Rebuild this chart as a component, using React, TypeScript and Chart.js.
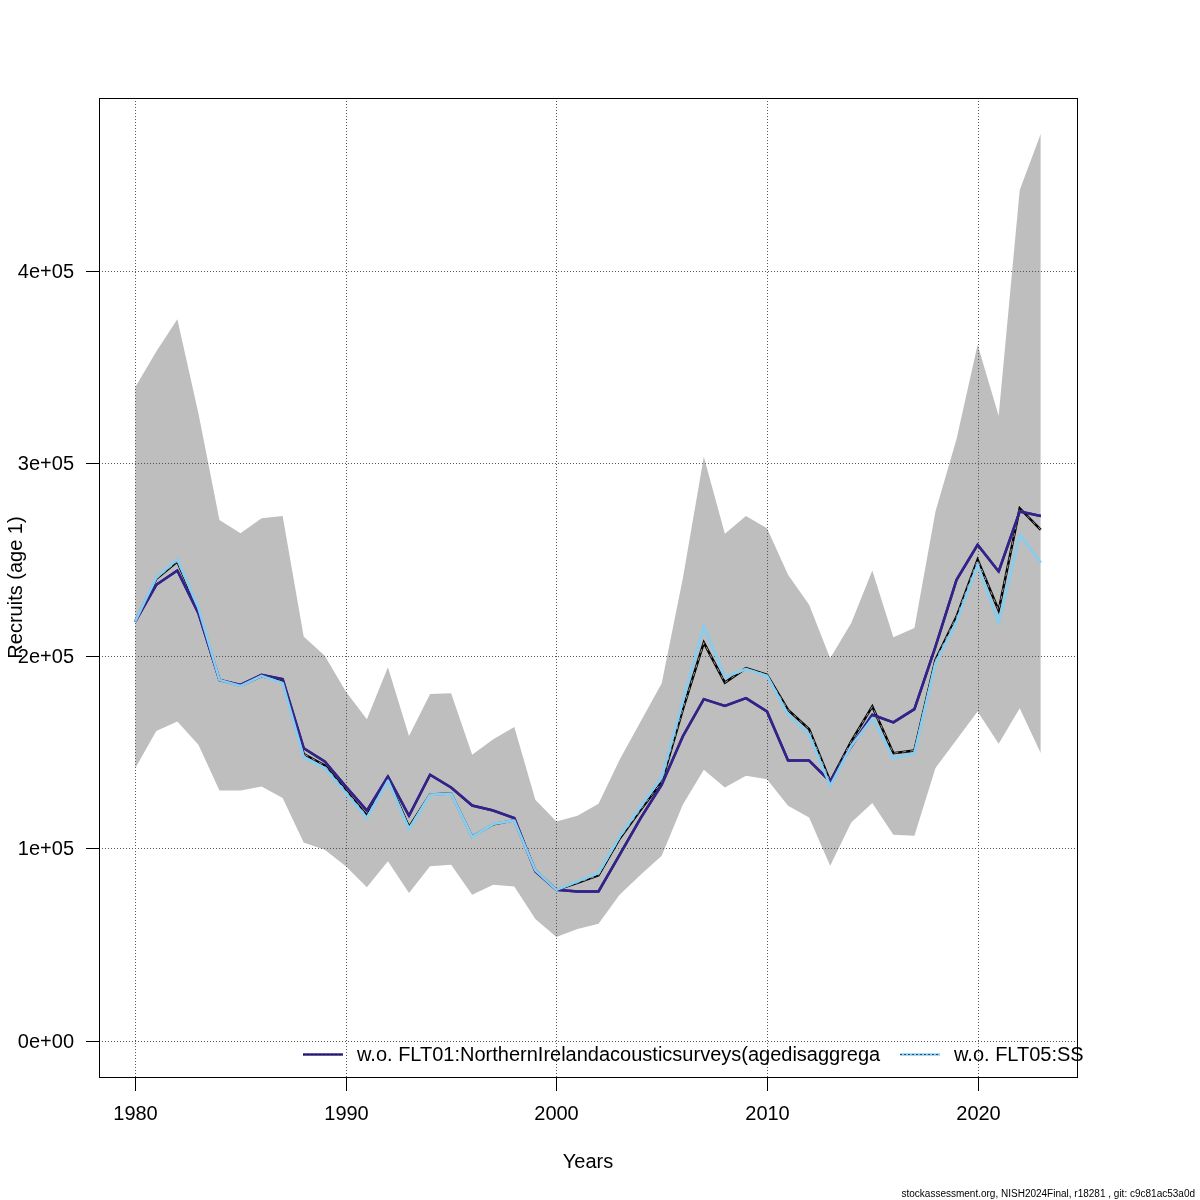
import React, { useEffect, useRef } from 'react';
import { Chart, registerables } from 'chart.js';

Chart.register(...registerables);

const years = [
  1980, 1981, 1982, 1983, 1984, 1985, 1986, 1987, 1988, 1989,
  1990, 1991, 1992, 1993, 1994, 1995, 1996, 1997, 1998, 1999,
  2000, 2001, 2002, 2003, 2004, 2005, 2006, 2007, 2008, 2009,
  2010, 2011, 2012, 2013, 2014, 2015, 2016, 2017, 2018, 2019,
  2020, 2021, 2022, 2023,
];

const baseRun = [
  217800, 240000, 249000, 223500, 187500, 184500, 189500, 186500, 149000, 143000,
  130000, 117000, 136000, 111000, 128000, 128500, 106000, 112500, 114500, 88500,
  78400, 82000, 86000, 105000, 120000, 134500, 172000, 206900, 186100, 193600,
  190100, 171900, 161900, 134700, 155500, 173700, 149400, 150800, 197900, 220400,
  249900, 223500, 276700, 265500,
];

const withoutFLT01 = [
  217800, 236900, 244300, 222200, 187500, 184900, 190100, 187900, 152000, 145100,
  132100, 119600, 137300, 116900, 138200, 131600, 122200, 119600, 115700, 88000,
  78400, 77600, 77600, 96600, 115700, 133000, 158100, 177500, 174000, 178000,
  171100, 145600, 145600, 134700, 152900, 169400, 165400, 172300, 204800, 239500,
  257700, 243800, 275000, 272700,
];

const withoutFLT05 = [
  217800, 240700, 250200, 224800, 187500, 184400, 189600, 185800, 147400, 141700,
  128700, 115700, 135200, 110000, 127800, 128300, 105800, 112700, 114400, 88500,
  78400, 82800, 87100, 106100, 121700, 136900, 176300, 215200, 188900, 193100,
  189600, 169400, 159000, 132500, 153200, 167600, 146800, 149400, 196200, 217800,
  247300, 217300, 262900, 248500,
];

const upperCI = [
  339600, 358100, 374900, 326000, 270600, 263700, 271500, 272700, 210000, 200000,
  181500, 167100, 194100, 158400, 180100, 180600, 148600, 156700, 163000, 125200,
  113900, 116900, 123100, 146000, 165900, 185800, 240000, 303500, 263400, 272700,
  266300, 242100, 226500, 198800, 217000, 244300, 209700, 214400, 275000, 312600,
  361600, 324700, 442100, 471200,
];

const lowerCI = [
  141600, 161000, 165900, 153800, 130000, 130000, 132100, 126100, 103000, 99200,
  90600, 79800, 93200, 76700, 90600, 91400, 75800, 81000, 80200, 63200,
  53900, 58000, 60800, 75800, 86200, 96100, 122600, 140800, 131600, 137700,
  135900, 122100, 116000, 90900, 113400, 123500, 107000, 106500, 141700, 156400,
  171100, 154300, 172800, 149400,
];

const xTicks = [1980, 1990, 2000, 2010, 2020];
const yTicks = [0, 100000, 200000, 300000, 400000];
const yTickLabels = ['0e+00', '1e+05', '2e+05', '3e+05', '4e+05'];
const legendLabels = [
  'w.o. FLT01:NorthernIrelandacousticsurveys(agedisaggrega',
  'w.o. FLT05:SS',
];
const xTitle = 'Years';
const yTitle = 'Recruits (age 1)';
const footer = 'stockassessment.org, NISH2024Final, r18281 , git: c9c81ac53a0d';

const PURPLE = '#332288';
const CYAN = '#88CCEE';
const BAND = '#BEBEBE';
const FONT = '"Liberation Sans", Arial, Helvetica, sans-serif';
const LW = 2.5;

const pts = (vals: number[]) => years.map((y, i) => ({ x: y, y: vals[i] }));

export default function App() {
  const ref = useRef<HTMLCanvasElement | null>(null);

  useEffect(() => {
    document.body.style.margin = '0';
    const canvas = ref.current;
    if (!canvas) return;

    const strokeMeta = (ctx: any, meta: any) => {
      ctx.beginPath();
      meta.data.forEach((p: any, i: number) => {
        if (i === 0) ctx.moveTo(p.x, p.y);
        else ctx.lineTo(p.x, p.y);
      });
      ctx.stroke();
    };

    const gridPlugin = {
      id: 'rgrid',
      afterDatasetDraw(chart: any, args: any) {
        if (args.index !== 3) return;
        const { ctx, chartArea } = chart;
        const xs = chart.scales.x;
        const ys = chart.scales.y;
        ctx.save();
        ctx.strokeStyle = '#555555';
        ctx.lineWidth = 1;
        ctx.setLineDash([1, 2]);
        for (const t of xTicks) {
          const px = Math.round(xs.getPixelForValue(t)) + 0.5;
          ctx.beginPath();
          ctx.moveTo(px, chartArea.top);
          ctx.lineTo(px, chartArea.bottom);
          ctx.stroke();
        }
        for (const t of yTicks) {
          const py = Math.round(ys.getPixelForValue(t)) + 0.5;
          ctx.beginPath();
          ctx.moveTo(chartArea.left, py);
          ctx.lineTo(chartArea.right, py);
          ctx.stroke();
        }
        ctx.restore();
      },
      afterDatasetsDraw(chart: any) {
        const { ctx } = chart;
        ctx.save();
        ctx.strokeStyle = '#9a9a9a';
        ctx.lineWidth = 1;
        ctx.setLineDash([4, 4]);
        strokeMeta(ctx, chart.getDatasetMeta(2));
        ctx.restore();
        [1, 0].forEach((di) => {
          ctx.save();
          ctx.strokeStyle = di === 1 ? PURPLE : CYAN;
          ctx.lineWidth = LW;
          ctx.lineJoin = 'round';
          strokeMeta(ctx, chart.getDatasetMeta(di));
          ctx.restore();
        });
      },
      afterDraw(chart: any) {
        const { ctx, chartArea } = chart;
        const xs = chart.scales.x;
        const ys = chart.scales.y;
        const L = chartArea.left, R = chartArea.right, T = chartArea.top, B = chartArea.bottom;
        ctx.save();
        ctx.strokeStyle = '#000';
        ctx.lineWidth = 1;
        ctx.setLineDash([]);
        ctx.strokeRect(Math.round(L) + 0.5, Math.round(T) + 0.5, Math.round(R - L), Math.round(B - T));
        ctx.fillStyle = '#000';
        ctx.font = `20px ${FONT}`;
        ctx.textAlign = 'center';
        ctx.textBaseline = 'middle';
        for (const t of xTicks) {
          const px = Math.round(xs.getPixelForValue(t)) + 0.5;
          ctx.beginPath();
          ctx.moveTo(px, B);
          ctx.lineTo(px, B + 14);
          ctx.stroke();
          ctx.fillText(String(t), px, B + 37);
        }
        ctx.textAlign = 'right';
        yTicks.forEach((t, i) => {
          const py = Math.round(ys.getPixelForValue(t)) + 0.5;
          ctx.beginPath();
          ctx.moveTo(L, py);
          ctx.lineTo(L - 13, py);
          ctx.stroke();
          ctx.fillText(yTickLabels[i], L - 25, py + 1);
        });
        ctx.textAlign = 'center';
        ctx.fillText(xTitle, (L + R) / 2, 1162);
        ctx.save();
        ctx.translate(16, (T + B) / 2);
        ctx.rotate(-Math.PI / 2);
        ctx.fillText(yTitle, 0, 0);
        ctx.restore();
        // legend
        ctx.save();
        ctx.beginPath();
        ctx.rect(0, 0, 1087, 1200);
        ctx.clip();
        const ly = 1054;
        const entries = [
          { x: 303, color: PURPLE, dot: '#1b1440', label: legendLabels[0] },
          { x: 900, color: CYAN, dot: '#2a4d88', label: legendLabels[1] },
        ];
        ctx.textAlign = 'left';
        for (const e of entries) {
          ctx.setLineDash([]);
          ctx.strokeStyle = e.color;
          ctx.lineWidth = LW;
          ctx.beginPath();
          ctx.moveTo(e.x, ly + 0.5);
          ctx.lineTo(e.x + 40, ly + 0.5);
          ctx.stroke();
          ctx.strokeStyle = e.dot;
          ctx.lineWidth = 1;
          ctx.setLineDash([2, 2]);
          ctx.beginPath();
          ctx.moveTo(e.x, ly + 0.5);
          ctx.lineTo(e.x + 40, ly + 0.5);
          ctx.stroke();
          ctx.fillStyle = '#000';
          ctx.fillText(e.label, e.x + 54, ly + 1);
        }
        ctx.restore();
        ctx.font = `10px ${FONT}`;
        ctx.textAlign = 'right';
        ctx.textBaseline = 'alphabetic';
        ctx.fillText(footer, 1195, 1197);
        ctx.restore();
      },
    };

    const chart = new Chart(canvas, {
      type: 'line',
      data: {
        datasets: [
          {
            label: legendLabels[1],
            data: pts(withoutFLT05),
            borderColor: CYAN,
            borderWidth: LW,
            pointRadius: 0,
            fill: false,
            tension: 0,
          },
          {
            label: legendLabels[0],
            data: pts(withoutFLT01),
            borderColor: PURPLE,
            borderWidth: LW,
            pointRadius: 0,
            fill: false,
            tension: 0,
          },
          {
            label: 'base',
            data: pts(baseRun),
            borderColor: '#000000',
            borderWidth: LW,
            pointRadius: 0,
            fill: false,
            tension: 0,
          },
          {
            label: 'upper',
            data: pts(upperCI),
            borderColor: 'rgba(0,0,0,0)',
            borderWidth: 0,
            backgroundColor: BAND,
            pointRadius: 0,
            fill: '+1',
            tension: 0,
          },
          {
            label: 'lower',
            data: pts(lowerCI),
            borderColor: 'rgba(0,0,0,0)',
            borderWidth: 0,
            pointRadius: 0,
            fill: false,
            tension: 0,
          },
        ],
      },
      options: {
        animation: false,
        responsive: false,
        devicePixelRatio: 1,
        layout: { padding: { left: 99, right: 123, top: 98, bottom: 123 } },
        scales: {
          x: { type: 'linear', display: false, min: 1978.28, max: 2024.72 },
          y: { type: 'linear', display: false, min: -18840, max: 489840 },
        },
        plugins: {
          legend: { display: false },
          tooltip: { enabled: false },
          filler: { propagate: false },
        },
      },
      plugins: [gridPlugin],
    } as any);

    return () => chart.destroy();
  }, []);

  return (
    <div style={{ width: 1200, height: 1200, position: 'relative', background: '#fff' }}>
      <canvas ref={ref} width={1200} height={1200} style={{ display: 'block', width: 1200, height: 1200 }} />
    </div>
  );
}
